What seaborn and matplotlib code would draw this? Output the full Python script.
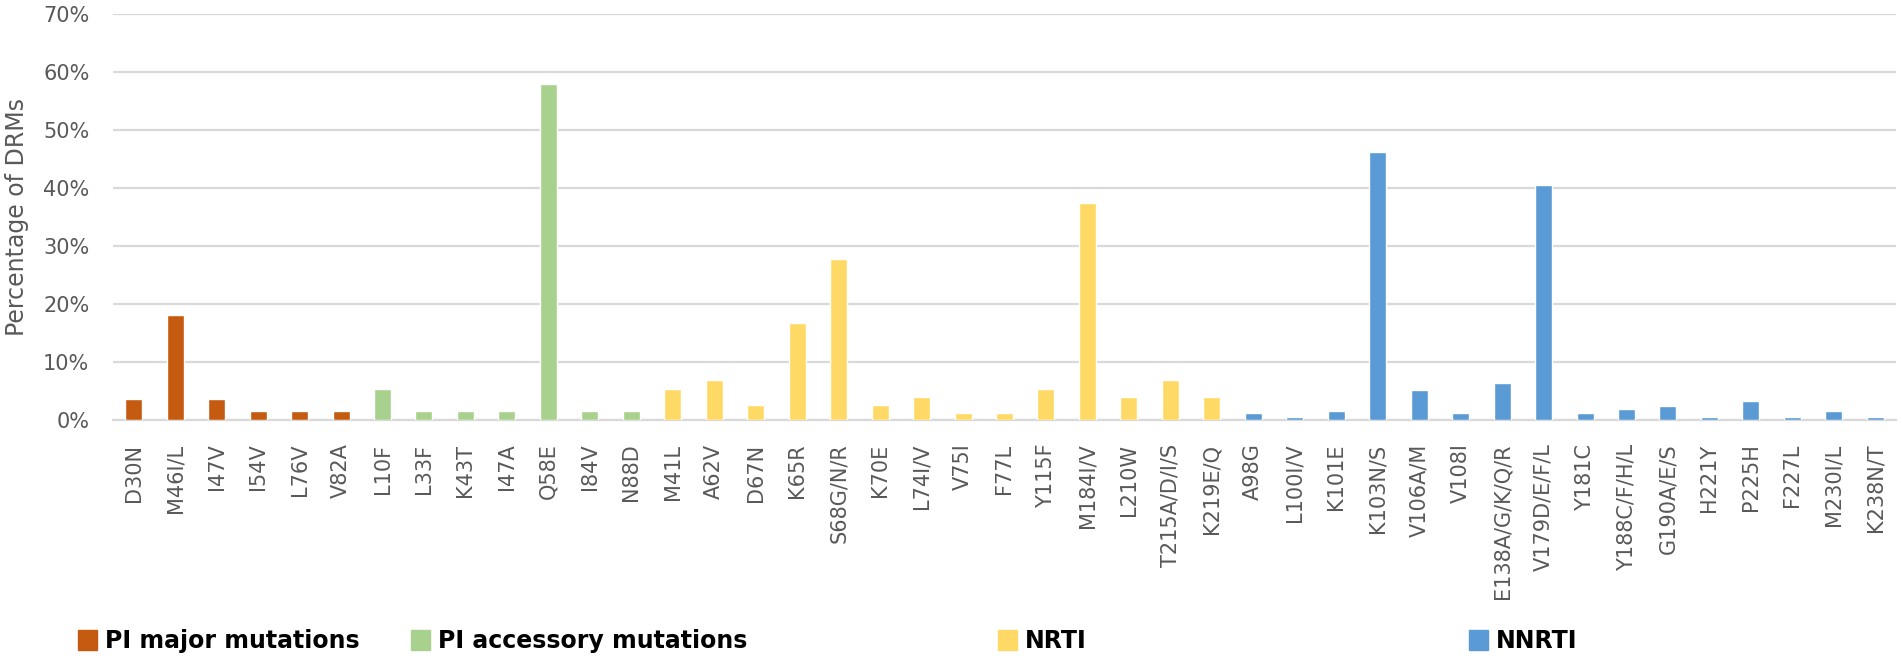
import matplotlib
matplotlib.use("Agg")
import matplotlib.pyplot as plt
from matplotlib.patches import Patch
from matplotlib.ticker import FuncFormatter, MultipleLocator
import seaborn as sns
import pandas as pd

pi_major = ["D30N", "M46I/L", "I47V", "I54V", "L76V", "V82A"]
pi_major_vals = [3.6, 18.1, 3.6, 1.6, 1.6, 1.6]

pi_accessory = ["L10F", "L33F", "K43T", "I47A", "Q58E", "I84V", "N88D"]
pi_accessory_vals = [5.4, 1.6, 1.6, 1.6, 58.0, 1.6, 1.6]

nrti = ["M41L", "A62V", "D67N", "K65R", "S68G/N/R", "K70E", "L74I/V", "V75I",
        "F77L", "Y115F", "M184I/V", "L210W", "T215A/D/I/S", "K219E/Q"]
nrti_vals = [5.4, 6.9, 2.6, 16.7, 27.8, 2.6, 4.0, 1.2, 1.2, 5.4, 37.4, 4.0, 6.9, 4.0]

nnrti = ["A98G", "L100I/V", "K101E", "K103N/S", "V106A/M", "V108I", "E138A/G/K/Q/R",
         "V179D/E/F/L", "Y181C", "Y188C/F/H/L", "G190A/E/S", "H221Y", "P225H",
         "F227L", "M230I/L", "K238N/T"]
nnrti_vals = [1.2, 0.5, 1.5, 46.2, 5.2, 1.2, 6.4, 40.5, 1.2, 1.9, 2.4, 0.5, 3.3, 0.5, 1.5, 0.5]

groups = ["PI major mutations", "PI accessory mutations", "NRTI", "NNRTI"]
colors = ["#C55A11", "#A9D18E", "#FFD966", "#5B9BD5"]

rows = []
for g, names, vals in zip(groups, [pi_major, pi_accessory, nrti, nnrti],
                          [pi_major_vals, pi_accessory_vals, nrti_vals, nnrti_vals]):
    for n, v in zip(names, vals):
        rows.append({"mutation": n, "pct": v, "group": g})
df = pd.DataFrame(rows)

sns.set_theme(style="white")
plt.rcParams["font.family"] = ["DejaVu Sans"]

fig = plt.figure(figsize=(19.02, 6.59), dpi=100)
ax = fig.add_axes([113 / 1902, 1 - 420 / 659, (1896 - 113) / 1902, (420 - 14) / 659])

sns.barplot(data=df, x="mutation", y="pct", hue="group", palette=colors,
            hue_order=groups, dodge=False, width=0.41, legend=False, ax=ax,
            saturation=1, zorder=3)

ax.set_ylim(0, 70)
ax.yaxis.set_major_locator(MultipleLocator(10))
ax.yaxis.set_major_formatter(FuncFormatter(lambda v, p: f"{int(round(v))}%"))
ax.grid(axis="y", color="#D9D9D9", linewidth=1.6, zorder=0)
ax.set_axisbelow(True)
for s in ["top", "right", "left"]:
    ax.spines[s].set_visible(False)
ax.spines["bottom"].set_color("#D9D9D9")
ax.spines["bottom"].set_linewidth(1.6)
ax.tick_params(axis="both", length=0, colors="#595959")
ax.tick_params(axis="y", labelsize=15, pad=17)
ax.tick_params(axis="x", labelsize=15, pad=17, rotation=90)
ax.set_xlabel("")
ax.set_ylabel("Percentage of DRMs", fontsize=17, color="#595959", va="center")
ax.yaxis.set_label_coords((17 - 113) / 1783, 0.5)

legend_x = [78, 411, 998, 1469]
for g, c, x in zip(groups, colors, legend_x):
    fig.legend(handles=[Patch(facecolor=c, edgecolor=c, label=g)],
               loc="center left", bbox_to_anchor=(x / 1902, 1 - 641 / 659),
               frameon=False, borderpad=0, borderaxespad=0,
               handlelength=0.8, handleheight=0.9, handletextpad=0.35,
               prop={"size": 17, "weight": "bold"}, labelcolor="black")

fig.savefig("out.png", dpi=100, facecolor="white")
